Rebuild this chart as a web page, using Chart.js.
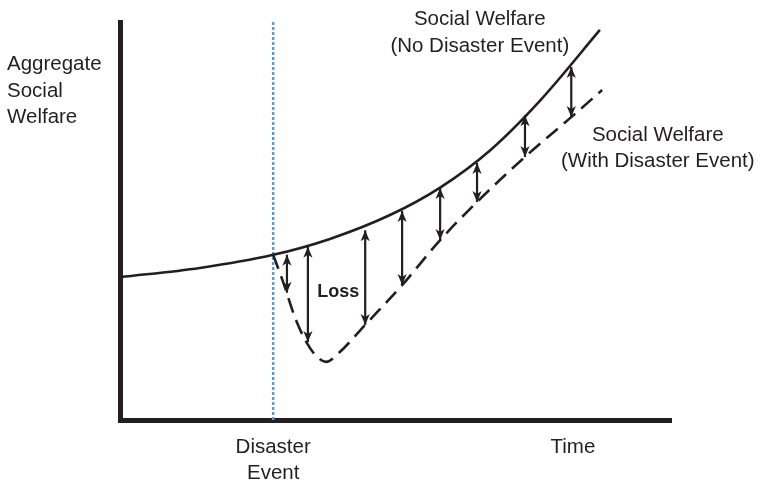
<!DOCTYPE html>
<html><head><meta charset="utf-8">
<script src="https://cdn.jsdelivr.net/npm/chart.js@4.4.1/dist/chart.umd.min.js"></script>
<style>html,body{margin:0;padding:0;background:#fff;}canvas{display:block;}</style>
</head><body>
<canvas id="c" width="762" height="484"></canvas>
<script>
// ---- data ----
const noDisasterX = [0, 14.5, 27.8, 38.1, 49.0, 58.1, 67.2, 76.2, 87.1];
const noDisasterY = [35.9, 38.2, 41.5, 45.5, 51.5, 58.4, 67.8, 80.2, 98.0];
const disasterX = [27.8, 29.6, 31.8, 33.8, 35.6, 37.4, 39.9, 44.5, 51.2, 58.1, 64.8, 73.5, 81.9, 87.5];
const disasterY = [41.5, 34.7, 25.6, 19.6, 16.1, 14.6, 17.1, 23.9, 33.9, 45.2, 54.8, 66.1, 76.1, 82.9];
const eventTime = 27.8;
const lossX = [30.3, 34.1, 44.5, 51.2, 58.1, 64.8, 73.5, 81.9];
const lossTop = [41.5, 43.5, 47.7, 52.5, 58.3, 64.6, 76.6, 88.7];
const lossBottom = [32.0, 19.6, 23.9, 33.9, 45.2, 54.8, 66.1, 76.1];
const xTickValues = [27.8, 82.2];
const xTickLabels = [["Disaster", "Event"], "Time"];
const yTickValues = [82.7];
const yTickLabels = [["Aggregate", "Social", "Welfare"]];
const curveLabels = [["Social Welfare", "(No Disaster Event)"], ["Social Welfare", "(With Disaster Event)"], ["Loss"]];

// ---- styling ----
const INK = '#231f20';
const BLUE = '#5a9ad8';
const FONT = '"Liberation Sans", Arial, Helvetica, sans-serif';

const toPts = (xs, ys) => xs.map((x, i) => ({x: x, y: ys[i]}));

const datasets = [
  {data: toPts(noDisasterX, noDisasterY), borderColor: INK, borderWidth: 2.6,
   cubicInterpolationMode: 'monotone', pointRadius: 0, showLine: true},
  {data: toPts(disasterX, disasterY), borderColor: INK, borderWidth: 2.6, borderDash: [15, 8],
   cubicInterpolationMode: 'monotone', pointRadius: 0, showLine: true}
];
lossX.forEach((x, i) => {
  datasets.push({data: [{x: x, y: lossTop[i]}, {x: x, y: lossBottom[i]}], borderColor: INK,
    borderWidth: 2.2, pointRadius: 0, showLine: true, isArrow: true});
});
datasets.push({data: [{x: eventTime, y: 0}, {x: eventTime, y: 100}], borderColor: BLUE,
  borderWidth: 2.5, borderDash: [3, 2], pointRadius: 0, showLine: true});

const arrowHeads = {
  id: 'arrowHeads',
  afterDatasetsDraw(chart) {
    const ctx = chart.ctx;
    const head = (x, y, d) => {
      ctx.beginPath();
      ctx.moveTo(x, y);
      ctx.lineTo(x - 4.6, y + d * 11);
      ctx.lineTo(x, y + d * 8);
      ctx.lineTo(x + 4.6, y + d * 11);
      ctx.closePath();
      ctx.fill();
    };
    ctx.save();
    ctx.fillStyle = INK;
    chart.data.datasets.forEach((ds, i) => {
      if (!ds.isArrow) return;
      const pts = chart.getDatasetMeta(i).data;
      head(pts[0].x, pts[0].y, 1);
      head(pts[1].x, pts[1].y, -1);
    });
    ctx.restore();
  }
};

const annotations = {
  id: 'annotations',
  afterDraw(chart) {
    const ctx = chart.ctx;
    const xs = chart.scales.x, ys = chart.scales.y;
    const place = [
      {x: 65.3, y: 99.2, font: '20.5px ' + FONT, lh: 27},
      {x: 97.6, y: 70.1, font: '20.5px ' + FONT, lh: 26},
      {x: 39.6, y: 30.9, font: 'bold 18px ' + FONT, lh: 22}
    ];
    ctx.save();
    ctx.fillStyle = INK;
    ctx.textAlign = 'center';
    ctx.textBaseline = 'alphabetic';
    curveLabels.forEach((lines, i) => {
      const p = place[i];
      ctx.font = p.font;
      const px = xs.getPixelForValue(p.x), py = ys.getPixelForValue(p.y);
      lines.forEach((t, j) => ctx.fillText(t, px, py + j * p.lh));
    });
    ctx.restore();
  }
};

new Chart(document.getElementById('c'), {
  type: 'scatter',
  data: {datasets: datasets},
  options: {
    responsive: false,
    animation: false,
    events: [],
    layout: {padding: {left: 7, top: 22, right: 91, bottom: 0}},
    plugins: {legend: {display: false}, tooltip: {enabled: false}},
    scales: {
      x: {
        type: 'linear', min: 0, max: 100,
        grid: {display: false, drawTicks: false},
        border: {display: true, width: 5, color: INK},
        afterBuildTicks: (s) => { s.ticks = xTickValues.map(v => ({value: v})); },
        afterFit: (s) => { s.height = 64; s.paddingLeft = 0; s.paddingRight = 0; },
        ticks: {
          padding: 14, color: INK, maxRotation: 0, autoSkip: false,
          font: {family: FONT, size: 20.5, lineHeight: 1.27},
          callback: (v, i) => xTickLabels[i]
        }
      },
      y: {
        type: 'linear', min: 0, max: 100,
        grid: {display: false, drawTicks: false},
        border: {display: true, width: 5, color: INK},
        afterBuildTicks: (s) => { s.ticks = yTickValues.map(v => ({value: v})); },
        afterFit: (s) => { s.width = 113; s.paddingTop = 0; s.paddingBottom = 0; },
        ticks: {
          padding: 0, color: INK, crossAlign: 'far', autoSkip: false,
          font: {family: FONT, size: 20.5, lineHeight: 1.29},
          callback: (v, i) => yTickLabels[i]
        }
      }
    }
  },
  plugins: [arrowHeads, annotations]
});
</script>
</body></html>
